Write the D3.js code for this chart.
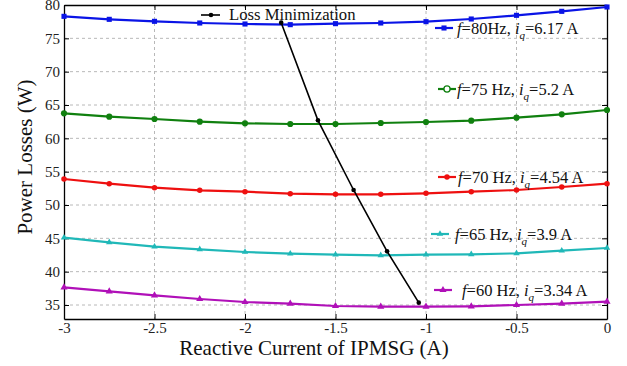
<!DOCTYPE html>
<html>
<head>
<meta charset="utf-8">
<script src="https://cdn.jsdelivr.net/npm/d3@7"></script>
<style>
  body { margin: 0; background: #fff; }
  svg text { font-family: "Liberation Serif", "Times New Roman", serif; }
</style>
</head>
<body>
<svg id="chart" width="627" height="366"></svg>
<script>
// reactive current (A)
var current = [-3, -2.75, -2.5, -2.25, -2, -1.75, -1.5, -1.25, -1, -0.75, -0.5, -0.25, 0];

var loss80 = [78.3, 77.85, 77.55, 77.3, 77.15, 77.05, 77.2, 77.3, 77.5, 77.9, 78.45, 79.05, 79.7];
var loss75 = [63.75, 63.25, 62.9, 62.5, 62.25, 62.15, 62.15, 62.3, 62.45, 62.65, 63.1, 63.6, 64.25];
var loss70 = [53.9, 53.2, 52.6, 52.2, 52.0, 51.7, 51.6, 51.6, 51.75, 52.0, 52.25, 52.7, 53.2];
var loss65 = [45.1, 44.4, 43.75, 43.35, 42.95, 42.7, 42.55, 42.45, 42.55, 42.6, 42.75, 43.15, 43.55];
var loss60 = [37.65, 37.05, 36.45, 35.9, 35.45, 35.2, 34.85, 34.75, 34.75, 34.8, 35.0, 35.2, 35.5];

// loss minimization trajectory
var minCurrent = [-1.80, -1.597, -1.40, -1.215, -1.04];
var minLoss = [77.35, 62.7, 52.25, 43.05, 35.35];

var freqLabels = ["80Hz", "75 Hz", "70 Hz", "65 Hz", "60 Hz"];
var iqLabels = ["6.17 A", "5.2 A", "4.54 A", "3.9 A", "3.34 A"];

var xTicks = [-3, -2.5, -2, -1.5, -1, -0.5, 0];
var yTicks = [35, 40, 45, 50, 55, 60, 65, 70, 75, 80];

var svg = d3.select('#chart');
var plotLeft = 64, plotRight = 607, plotTop = 5, plotBottom = 319;
var serif = '"Liberation Serif", "Times New Roman", serif';

var xScale = d3.scaleLinear().domain([-3, 0]).range([plotLeft, plotRight]);
var yScale = d3.scaleLinear().domain([32.9, 80]).range([plotBottom, plotTop]);

// grid
svg.append('g').selectAll('line')
  .data(xTicks.slice(1, -1)).enter().append('line')
  .attr('x1', function(d){ return xScale(d); })
  .attr('x2', function(d){ return xScale(d); })
  .attr('y1', plotTop).attr('y2', plotBottom)
  .attr('stroke', '#b8b8b8').attr('stroke-dasharray', '3,3');
svg.append('g').selectAll('line')
  .data(yTicks.slice(0, -1)).enter().append('line')
  .attr('y1', function(d){ return yScale(d); })
  .attr('y2', function(d){ return yScale(d); })
  .attr('x1', plotLeft).attr('x2', plotRight)
  .attr('stroke', '#b8b8b8').attr('stroke-dasharray', '3,3');

// axes (ticks pointing inward, on all four sides)
var fmt = function(d){ return String(d); };
var gx = svg.append('g').attr('transform', 'translate(0,' + plotBottom + ')')
  .call(d3.axisBottom(xScale).tickValues(xTicks).tickFormat(fmt).tickSizeInner(-5).tickSizeOuter(0).tickPadding(3));
var gy = svg.append('g').attr('transform', 'translate(' + plotLeft + ',0)')
  .call(d3.axisLeft(yScale).tickValues(yTicks).tickFormat(fmt).tickSizeInner(-5).tickSizeOuter(0).tickPadding(4));
var gt = svg.append('g').attr('transform', 'translate(0,' + plotTop + ')')
  .call(d3.axisTop(xScale).tickValues(xTicks).tickFormat('').tickSizeInner(-5).tickSizeOuter(0));
var gr = svg.append('g').attr('transform', 'translate(' + plotRight + ',0)')
  .call(d3.axisRight(yScale).tickValues(yTicks).tickFormat('').tickSizeInner(-5).tickSizeOuter(0));
[gx, gy, gt, gr].forEach(function(g){
  g.selectAll('path').attr('stroke', '#000').attr('stroke-width', 1.3);
  g.selectAll('line').attr('stroke', '#000');
  g.selectAll('text').attr('font-family', serif)
    .attr('font-size', 15).attr('fill', '#222');
});

// series
var series = [
  { vals: loss80, color: '#0a14e6', sym: d3.symbolSquare, size: 26 },
  { vals: loss75, color: '#10800f', sym: d3.symbolCircle, size: 30 },
  { vals: loss70, color: '#ee1010', sym: d3.symbolCircle, size: 24 },
  { vals: loss65, color: '#20b8b8', sym: d3.symbolTriangle, size: 18 },
  { vals: loss60, color: '#b010b8', sym: d3.symbolTriangle, size: 22 }
];

var line = d3.line()
  .x(function(d){ return xScale(d[0]); })
  .y(function(d){ return yScale(d[1]); });

series.forEach(function(s){
  var pts = current.map(function(c, i){ return [c, s.vals[i]]; });
  svg.append('path').datum(pts)
    .attr('d', line).attr('fill', 'none')
    .attr('stroke', s.color).attr('stroke-width', 2.2);
  svg.append('g').selectAll('path').data(pts).enter().append('path')
    .attr('d', d3.symbol().type(s.sym).size(s.size))
    .attr('transform', function(d){ return 'translate(' + xScale(d[0]) + ',' + yScale(d[1]) + ')'; })
    .attr('fill', s.color);
});

// loss minimization line
var minPts = minCurrent.map(function(c, i){ return [c, minLoss[i]]; });
svg.append('path').datum(minPts)
  .attr('d', line).attr('fill', 'none')
  .attr('stroke', '#000').attr('stroke-width', 1.6);
svg.append('g').selectAll('circle').data(minPts).enter().append('circle')
  .attr('cx', function(d){ return xScale(d[0]); })
  .attr('cy', function(d){ return yScale(d[1]); })
  .attr('r', 2.3).attr('fill', '#000');

// legend: Loss Minimization
var lg = svg.append('g');
lg.append('line').attr('x1', 201).attr('x2', 220).attr('y1', 15).attr('y2', 15)
  .attr('stroke', '#000').attr('stroke-width', 1.6);
lg.append('circle').attr('cx', 211).attr('cy', 15).attr('r', 2.3).attr('fill', '#000');
lg.append('text').attr('x', 229).attr('y', 19.5)
  .attr('font-family', serif).attr('font-size', 16.7).attr('fill', '#111')
  .text('Loss Minimization');

// legend: series labels (positions placed where the reference has them)
var labelPos = [[435, 28, 457], [438, 89, 457], [438, 177, 458], [431, 234, 455], [434, 290, 462]];
series.forEach(function(s, i){
  var p = labelPos[i];
  var g = svg.append('g');
  g.append('line').attr('x1', p[0]).attr('x2', p[0] + 18).attr('y1', p[1]).attr('y2', p[1])
    .attr('stroke', s.color).attr('stroke-width', 2.2);
  g.append('path').attr('d', d3.symbol().type(s.sym).size(s.size)())
    .attr('transform', 'translate(' + (p[0] + 9) + ',' + p[1] + ')')
    .attr('fill', i === 1 ? '#fff' : s.color)
    .attr('stroke', i === 1 ? s.color : 'none').attr('stroke-width', 1.3);
  var t = g.append('text').attr('x', p[2]).attr('y', p[1] + 5.5)
    .attr('font-family', serif).attr('font-size', 16.5).attr('fill', '#111');
  t.append('tspan').attr('font-style', 'italic').text('f');
  t.append('tspan').text('=' + freqLabels[i] + ', ');
  t.append('tspan').attr('font-style', 'italic').text('i');
  t.append('tspan').attr('font-style', 'italic').attr('font-size', 11).attr('dy', 5).text('q');
  t.append('tspan').attr('dy', -5).text('=' + iqLabels[i]);
});

// axis titles
svg.append('text').attr('x', 314).attr('y', 355).attr('text-anchor', 'middle')
  .attr('font-family', serif).attr('font-size', 21).attr('fill', '#111')
  .text('Reactive Current of IPMSG (A)');
svg.append('text').attr('transform', 'translate(32,157) rotate(-90)')
  .attr('text-anchor', 'middle').attr('font-family', serif).attr('font-size', 21).attr('fill', '#111')
  .text('Power Losses (W)');
</script>
</body>
</html>
